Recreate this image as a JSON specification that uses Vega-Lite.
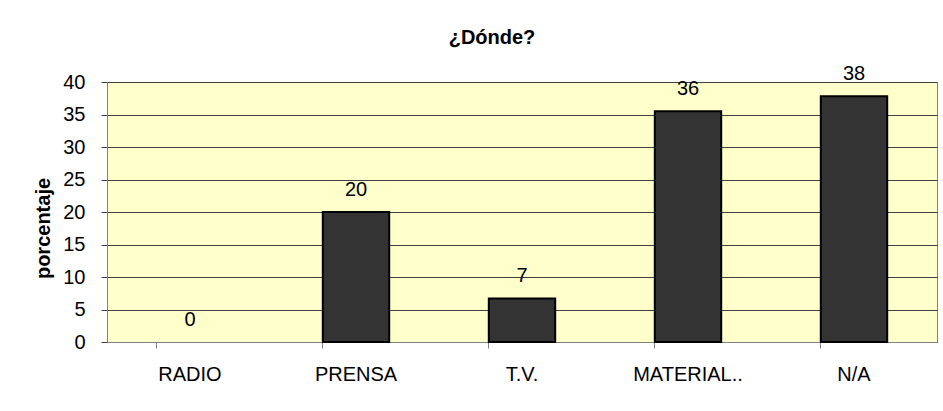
{
  "$schema": "https://vega.github.io/schema/vega-lite/v6.json",
  "width": 830,
  "height": 260,
  "autosize": {"type": "none"},
  "padding": {"left": 107, "top": 82, "right": 6, "bottom": 69},
  "background": "white",
  "title": {
    "text": "¿Dónde?",
    "font": "Liberation Sans",
    "fontSize": 20,
    "fontWeight": "bold",
    "color": "black",
    "anchor": "middle",
    "dx": -30,
    "offset": 16
  },
  "data": {
    "values": [
      {"lugar": "RADIO", "porcentaje": 0},
      {"lugar": "PRENSA", "porcentaje": 20},
      {"lugar": "T.V.", "porcentaje": 6.7},
      {"lugar": "MATERIAL..", "porcentaje": 35.5},
      {"lugar": "N/A", "porcentaje": 37.8}
    ]
  },
  "encoding": {
    "x": {
      "field": "lugar",
      "type": "nominal",
      "sort": null,
      "scale": {"paddingInner": 0.6, "paddingOuter": 0.3},
      "axis": {
        "title": null,
        "labelAngle": 0,
        "labelFont": "Liberation Sans",
        "labelFontSize": 20,
        "labelColor": "black",
        "labelPadding": 16,
        "bandPosition": 0,
        "tickSize": 6,
        "tickColor": "#808080",
        "domainColor": "#808080",
        "grid": false
      }
    },
    "y": {
      "field": "porcentaje",
      "type": "quantitative",
      "scale": {"domain": [0, 40], "nice": false},
      "axis": {
        "title": "porcentaje",
        "titleFont": "Liberation Sans",
        "titleFontSize": 20,
        "titleFontWeight": "bold",
        "titleColor": "black",
        "titlePadding": 9,
        "titleY": 146,
        "values": [0, 5, 10, 15, 20, 25, 30, 35, 40],
        "labelFont": "Liberation Sans",
        "labelFontSize": 20,
        "labelColor": "black",
        "labelPadding": 16,
        "tickSize": 6,
        "tickColor": "#404040",
        "domainColor": "#808080",
        "grid": true,
        "gridColor": "#404040",
        "gridWidth": 1
      }
    }
  },
  "layer": [
    {
      "mark": {"type": "bar", "color": "#333333", "stroke": "black", "strokeWidth": 2},
      "encoding": {
        "strokeOpacity": {"condition": {"test": "datum.porcentaje == 0", "value": 0}, "value": 1}
      }
    },
    {
      "mark": {"type": "text", "baseline": "bottom", "dy": -12, "font": "Liberation Sans", "fontSize": 20, "color": "black"},
      "encoding": {"text": {"field": "porcentaje", "type": "quantitative", "format": ".0f"}}
    }
  ],
  "config": {
    "view": {"fill": "#FFFFCC", "stroke": "#808080", "strokeWidth": 1}
  }
}
